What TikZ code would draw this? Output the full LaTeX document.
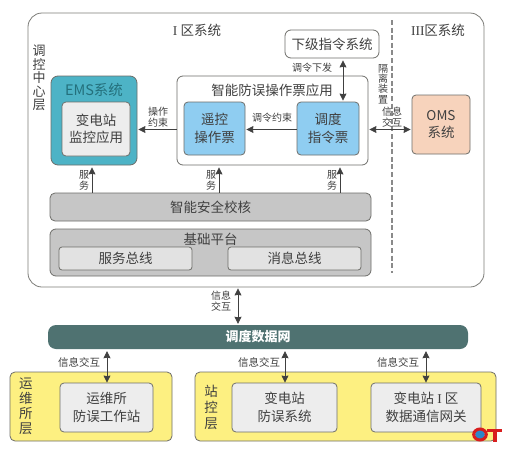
\documentclass[tikz,border=0pt]{standalone}
\usepackage{fontspec}
\setmainfont{Noto Sans CJK SC}
\newfontfamily\romfont{Liberation Serif}
\usetikzlibrary{arrows.meta,calc}
\definecolor{ink}{HTML}{404040}
\definecolor{edge}{HTML}{6E6E6A}
\definecolor{dashc}{HTML}{8A8A8A}
\definecolor{teal1}{HTML}{4DB3C6}
\definecolor{tealtext}{HTML}{24707C}
\definecolor{blue1}{HTML}{8FCDF1}
\definecolor{peach}{HTML}{F7D3BC}
\definecolor{grey1}{HTML}{C6C6C6}
\definecolor{grey2}{HTML}{E2E2E2}
\definecolor{paper}{HTML}{EDEDED}
\definecolor{netc}{HTML}{4F7271}
\definecolor{yell}{HTML}{FDF081}
\definecolor{logored}{HTML}{D81E1E}
\definecolor{logoblue}{HTML}{2E86C8}
\tikzset{
  x=1pt,y=-1pt,
  box/.style={draw=edge,line width=0.8pt,rounded corners=#1,inner sep=0pt,align=center,text=ink},
  box/.default=5pt,
  big/.style={font=\fontsize{13.5}{17.5}\selectfont},
  small/.style={font=\fontsize{10}{11}\selectfont,text=ink,align=center,inner sep=0pt},
  plain/.style={text=ink,align=center,inner sep=0pt},
  conn/.style={draw=ink,line width=0.8pt,-{Stealth[length=7pt,width=7pt,inset=0.5pt]}},
  conn2/.style={draw=ink,line width=0.8pt,{Stealth[length=7pt,width=7pt,inset=0.5pt]}-{Stealth[length=7pt,width=7pt,inset=0.5pt]}},
}
\begin{document}
\begin{tikzpicture}
\useasboundingbox (0,0) rectangle (512,453);
\fill[white] (0,0) rectangle (512,453);
% control centre
\node[box=14pt,fill=white,minimum width=456pt,minimum height=274pt,draw=edge!90] (outer) at (256,150) {};
\coordinate (dashtop) at (392,20);
\coordinate (dashbot) at (392,273);
\draw[draw=dashc,line width=1.4pt,dash pattern=on 5pt off 2.6pt] (dashtop) -- (dashbot);
\node[plain,big] (zone1) at (197,30) {{\romfont I} 区系统};
\node[plain,font=\fontsize{13.5}{15}\selectfont] (zone3) at (438,30) {{\romfont III}区系统};
\node[plain,font=\fontsize{13}{13.6}\selectfont] (layer1) at (39,78) {调\\控\\中\\心\\层};
% EMS
\node[box=7pt,fill=teal1,minimum width=86pt,minimum height=89pt] (ems) at (94,120.5) {};
\node[plain,font=\fontsize{14.5}{15}\selectfont,text=tealtext] (emstitle) at (94,90) {EMS系统};
\node[box=4pt,fill=paper,minimum width=68pt,minimum height=54pt,big] (mon) at (96,129) {变电站\\监控应用};
% smart app
\node[box=6pt,fill=white,minimum width=191pt,minimum height=89pt] (app) at (272.5,120.5) {};
\node[plain,big] (apptitle) at (272,90) {智能防误操作票应用};
\node[box=4pt,fill=blue1,minimum width=61pt,minimum height=53pt,big] (remote) at (214.5,128.5) {遥控\\操作票};
\node[box=4pt,fill=blue1,minimum width=62pt,minimum height=53pt,big] (disp) at (328,128.5) {调度\\指令票};
\node[box=6pt,fill=white,minimum width=94pt,minimum height=28pt,big] (lower) at (332,44) {下级指令系统};
\node[box=4pt,fill=peach,minimum width=58pt,minimum height=59pt,big] (oms) at (441,124.5) {OMS\\系统};
% safety + platform
\node[box=5pt,fill=grey1,minimum width=321pt,minimum height=28pt,big] (safe) at (210.5,207) {智能安全校核};
\node[box=6pt,fill=grey1,minimum width=321pt,minimum height=47pt] (base) at (210.5,252.5) {};
\node[plain,big] (basetitle) at (210.5,239) {基础平台};
\node[box=3pt,fill=grey2,minimum width=133pt,minimum height=23pt,big] (bus1) at (125.5,258.5) {服务总线};
\node[box=3pt,fill=grey2,minimum width=133pt,minimum height=23pt,big] (bus2) at (294.5,258.5) {消息总线};
% network
\node[rounded corners=8pt,fill=netc,minimum width=420pt,minimum height=24pt,inner sep=0pt,text=white,font=\fontsize{13}{15}\bfseries\selectfont] (net) at (258,337) {调度数据网};
% bottom layers
\node[box=5pt,fill=yell,minimum width=162pt,minimum height=69pt] (ops) at (91,406.5) {};
\node[box=5pt,fill=yell,minimum width=301pt,minimum height=69pt] (stn) at (345.5,406.5) {};
\node[plain,font=\fontsize{13.5}{15}\selectfont] (opslabel) at (26,406.5) {运\\维\\所\\层};
\node[plain,font=\fontsize{13.5}{16}\selectfont] (stnlabel) at (211,407) {站\\控\\层};
\node[box=4pt,fill=paper,minimum width=93pt,minimum height=49pt,big] (opsws) at (106.5,407.5) {运维所\\防误工作站};
\node[box=4pt,fill=paper,minimum width=105pt,minimum height=49pt,big] (stnsys) at (284.5,407.5) {变电站\\防误系统};
\node[box=4pt,fill=paper,minimum width=110pt,minimum height=49pt,big] (gate) at (426,407.5) {变电站 {\romfont I} 区\\数据通信网关};
% x positions of connectors
\coordinate (xa) at (92,0);
\coordinate (xb) at (219,0);
\coordinate (xc) at (340,0);
\coordinate (xd) at (343,0);
\coordinate (xe) at (238,0);
\coordinate (xf) at (107,0);
\coordinate (xg) at (285,0);
\coordinate (xh) at (426,0);
\coordinate (ya) at (0,129.5);
% connectors
\draw[conn] (safe.north -| xa) -- ($(ems.south -| xa)+(0,2)$);
\draw[conn] (safe.north -| xb) -- ($(app.south -| xb)+(0,2)$);
\draw[conn] (safe.north -| xc) -- ($(app.south -| xc)+(0,2)$);
\draw[conn] (app.west |- ya) -- ($(ems.east |- ya)+(1,0)$);
\draw[conn] (disp.west |- ya) -- ($(remote.east |- ya)+(1,0)$);
\draw[conn2] ($(lower.south -| xd)+(0,2)$) -- ($(disp.north -| xd)+(0,-1)$);
\draw[conn2] ($(app.east |- ya)+(1,0)$) -- ($(oms.west |- ya)+(-1,0)$);
\draw[conn2] ($(outer.south -| xe)+(0,1)$) -- ($(net.north -| xe)+(0,-1)$);
\draw[conn2] ($(net.south -| xf)+(0,2)$) -- (opsws.north -| xf);
\draw[conn2] ($(net.south -| xg)+(0,2)$) -- (stnsys.north -| xg);
\draw[conn2] ($(net.south -| xh)+(0,2)$) -- (gate.north -| xh);
% connector labels
\node[small] (l1) at (84,180) {服\\务};
\node[small] (l2) at (211,180) {服\\务};
\node[small] (l3) at (332,180) {服\\务};
\node[small] (l4) at (158,117) {操作\\约束};
\node[small] (l5) at (272,118) {调令约束};
\node[small] (l6) at (312,68) {调令下发};
\node[small,font=\fontsize{10}{10.3}\selectfont] (l7) at (383,84) {隔\\离\\装\\置};
\node[small] (l8) at (392,117) {信息\\交互};
\node[small] (l9) at (221,301) {信息\\交互};
\node[small,font=\fontsize{10.5}{11}\selectfont] (l10) at (79,362) {信息交互};
\node[small,font=\fontsize{10.5}{11}\selectfont] (l11) at (259,362) {信息交互};
\node[small,font=\fontsize{10.5}{11}\selectfont] (l12) at (398,362) {信息交互};
% logo
\fill[logoblue] (480,434.5) circle (5pt);
\draw[logored,line width=3pt] (480,434.5) ellipse (6.3pt and 5.5pt);
\fill[logored] (487,428.5) rectangle (502,431.5);
\fill[logored] (492.5,428.5) rectangle (497,442);
\end{tikzpicture}
\end{document}
